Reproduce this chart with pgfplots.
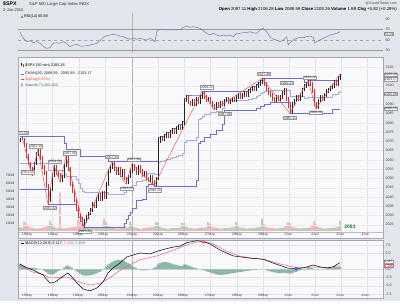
\documentclass[border=0pt]{standalone}
\usepackage{fontspec}
\setmainfont{Liberation Sans}
\usepackage{pgfplots}
\pgfplotsset{compat=1.18}
\usepackage{pgfplotstable}
\usepgfplotslibrary{fillbetween}

\definecolor{outerbg}{RGB}{226,229,235}
\definecolor{panelbg}{RGB}{249,249,252}
\definecolor{gridc}{RGB}{226,226,234}
\definecolor{framec}{RGB}{165,168,178}
\definecolor{barred}{RGB}{225,40,40}
\definecolor{bardark}{RGB}{35,35,35}
\definecolor{chan}{RGB}{110,110,205}
\definecolor{chanmid}{RGB}{170,170,222}
\definecolor{zig}{RGB}{232,80,80}
\definecolor{volup}{RGB}{150,182,152}
\definecolor{voldn}{RGB}{236,152,162}
\definecolor{rsic}{RGB}{120,120,172}
\definecolor{rsifill}{RGB}{95,165,150}
\definecolor{macdsig}{RGB}{215,105,125}
\definecolor{histc}{RGB}{85,148,128}
\definecolor{lbl}{RGB}{60,60,60}
\definecolor{volg}{RGB}{40,120,50}

\newcommand{\fs}[1]{\fontsize{#1}{#1}\selectfont}

\pgfplotstableread{
x lo hi v
20 2069.5 2072 45
22 2070.5 2072.5 40
34 2052 2059 35
36 2057 2064 30
38 2062 2066 30
50 2037 2045 130
52 2043 2053 90
54 2051 2057 55
62 2048 2052 35
64 2050 2058 30
66 2056 2062 35
84 2023.5 2028 55
86 2026 2030 45
88 2028 2032 40
90 2030 2034 35
92 2032 2037 35
96 2034 2040 40
98 2038 2042 45
102 2038 2043 50
106 2039 2048 110
108 2046 2055 60
110 2053 2057 45
112 2055 2059 40
118 2052 2056 30
122 2051 2055 40
128 2047 2052 45
130 2050 2055 120
132 2053 2058 85
138 2052 2057 35
144 2051 2054 35
150 2048 2052 45
156 2046 2051 110
158 2049 2072 100
160 2069 2073 55
164 2070 2074 35
166 2072 2075 30
170 2072 2076 30
172 2074 2077 35
176 2074 2078 40
178 2076 2079 40
182 2076 2081 100
184 2079 2093 95
186 2091 2095 55
192 2089 2093 35
196 2089 2094 30
200 2090 2095 40
202 2093 2097 45
208 2091 2094 110
216 2087 2091 40
220 2088 2092 30
224 2089 2093 35
226 2091 2094 35
230 2090 2093 40
232 2091 2094 45
236 2091 2095 115
238 2093 2096 80
242 2093 2096 40
244 2094 2097 35
248 2094 2098 30
250 2096 2099 35
252 2097 2100 35
256 2097 2101 40
258 2099 2102 45
260 2100 2103 50
262 2101 2104 150
276 2091 2095 30
280 2092 2095 40
282 2093 2097 40
284 2095 2099 45
292 2085 2091 55
294 2089 2093 45
296 2091 2095 40
300 2092 2096 30
302 2094 2099 35
304 2097 2101 35
306 2099 2102 40
308 2100 2103 40
318 2087.5 2093 50
320 2091 2095 40
324 2092 2096 30
326 2094 2098 30
328 2096 2099 35
330 2097 2100 35
332 2098 2101 40
334 2099 2103 40
338 2100 2105 50
340 2103 2106.3 125
}\upbars

\pgfplotstableread{
x lo hi v
24 2067 2072 120
26 2061 2069 95
28 2057 2063 60
30 2054 2059 45
32 2051.5 2056 40
40 2060 2066 35
42 2055 2062 40
44 2052 2057 45
46 2045 2054 50
48 2036 2047 60
56 2052 2057 40
58 2051 2054 35
60 2048 2053 480
68 2054 2062 40
70 2046 2056 45
72 2042 2048 45
74 2037 2044 50
76 2033 2039 55
78 2029 2035 140
80 2027 2031 100
82 2024.5 2029 60
94 2034 2037 40
100 2038 2042 40
104 2039 2043 150
114 2054 2059 35
116 2052 2056 30
120 2051 2056 35
124 2049 2055 45
126 2047 2051 50
134 2054 2058 50
136 2052 2056 40
140 2053 2057 30
142 2051 2055 30
146 2049 2054 40
148 2048 2051 45
152 2047 2052 50
154 2046 2049 55
162 2070 2073 40
168 2072 2075 30
174 2074 2077 35
180 2076 2079 45
188 2090 2095 45
190 2089 2092 40
194 2089 2093 30
198 2090 2094 35
204 2093 2097 40
206 2091 2095 45
210 2090 2094 85
212 2088 2092 50
214 2087 2090 45
218 2088 2091 35
222 2089 2092 30
228 2090 2094 40
234 2091 2094 50
240 2093 2096 45
246 2094 2097 30
254 2097 2100 40
264 2100 2104 85
266 2097 2102 50
268 2095 2099 45
270 2094 2097 40
272 2092 2096 35
274 2091 2094 35
278 2092 2095 35
286 2092 2099 60
288 2088 2094 110
290 2085 2090 95
298 2092 2095 35
310 2100 2103 45
312 2096 2102 60
314 2089 2098 120
316 2087.5 2091 80
322 2092 2095 35
336 2100 2103 45
}\dnbars

\pgfplotstableread{
x uc mc lc
20 2072.5 2058.25 2044
48 2072.5 2054.25 2036
64 2069 2052.5 2036
66 2066 2051 2036
76 2066 2049.5 2033
78 2066 2047.5 2029
80 2062 2044.5 2027
82 2062 2043.25 2024.5
84 2062 2042.75 2023.5
108 2059 2041.25 2023.5
124 2059 2042.5 2026
126 2059 2043.5 2028
128 2059 2044.5 2030
130 2059 2045.5 2032
132 2059 2046.5 2034
136 2059 2048.5 2038
142 2059 2049 2039
146 2059 2052.5 2046
148 2059 2053 2047
154 2059 2052.5 2046
158 2072 2059 2046
160 2073 2059.5 2046
164 2074 2060 2046
166 2075 2060.5 2046
170 2076 2061 2046
172 2077 2061.5 2046
176 2078 2062 2046
178 2079 2062.5 2046
182 2081 2063.5 2046
184 2093 2069.5 2046
186 2095 2070.5 2046
196 2095 2072 2049
198 2095 2082 2069
200 2095 2082.5 2070
202 2097 2083.5 2070
204 2097 2084.5 2072
210 2097 2085.5 2074
216 2097 2086.5 2076
222 2097 2088 2079
224 2097 2092 2087
248 2098 2092.5 2087
250 2099 2093 2087
252 2100 2093.5 2087
256 2101 2094.5 2088
258 2102 2095 2088
260 2103 2096 2089
262 2104 2096.5 2089
264 2104 2097 2090
270 2104 2097.5 2091
290 2104 2094.5 2085
304 2102 2093.5 2085
308 2103 2094 2085
332 2103 2095.25 2087.5
338 2105 2096.25 2087.5
340 2106.3 2096.9 2087.5
}\chantab

\pgfplotstableread{
x v
20 64.3
23.3 52.9
26.7 46.4
30 48.3
33.3 44.5
36.7 46.4
40 43.3
43.3 36.9
46.7 33.8
50 35
53.3 43.3
56.7 44.5
60 43.3
63.3 46.4
66.7 43.3
70 36.9
73.3 40.1
76.7 41.4
80 38.2
83.3 38.2
86.7 38.8
90 40.1
93.3 41.4
96.7 43.3
100 48.3
103.3 54.8
106.7 57.8
110 59.1
113.3 60.5
116.7 59.1
120 57.2
123.3 55.9
126.7 52.9
130 51
133.3 52.9
136.7 51
140 52.9
143.3 51
146.7 49.6
150 52.9
153.3 49.6
155 46.4
156.7 65.4
158.3 68.7
163.3 70
166.7 68.7
173.3 68.7
180 68.7
183.3 73.8
186.7 76.3
190 73.8
193.3 75
200 71.9
203.3 67.3
206.7 62.4
210 59.1
213.3 62.4
216.7 59.1
220 57.2
223.3 59.1
226.7 57.2
230 59.1
233.3 55.9
236.7 62.4
240 62.4
243.3 63.5
246.7 63.5
250 65.4
253.3 63.5
256.7 62.4
260 68.7
263.3 71.9
266.7 65.4
270 55.9
273.3 51
276.7 49.6
280 46.4
283.3 49.6
286.7 55.9
288.3 40.1
290 44.5
293.3 49.6
296.7 52.9
300 54.8
303.3 54
306.7 55.9
310 57.2
313.3 54.8
315 43.3
316.7 46.4
320 49.6
323.3 52.9
326.7 55.9
330 59.1
333.3 60.5
336.7 62.4
340 65.6
}\rsitab

\pgfplotstableread{
x v
20 1.7
25 0.8
33 -0.15
43 -1.7
50 -4.2
55 -3.9
62 -2.3
68 -1.1
72 -2.3
77 -4.2
83 -6.0
90 -6.6
97 -5.7
103 -3.9
108 -1.1
113 0.5
120 2.0
127 3.9
140 5.1
150 4.8
157 5.6
165 6.3
173 6.9
180 7.2
187 8.3
197 8.9
203 8.6
210 7.9
220 6.0
233 4.2
250 3.5
263 3.2
273 2.0
287 0.5
297 0.15
307 0.8
313 1.4
320 0.8
327 0.5
333 0.8
340 2.1
}\macdtab

\pgfplotstableread{
x v
20 1.1
33 -0.8
43 -1.5
50 -2.6
60 -2.5
67 -2.3
80 -3.9
90 -4.8
100 -4.2
110 -2.6
117 -0.9
127 1.0
140 3.0
157 4.2
173 5.9
187 7.6
197 8.5
205 8.6
213 7.9
227 5.6
240 4.1
253 3.5
267 2.9
280 1.7
293 0.8
303 0.5
313 0.8
327 0.5
340 1.2
}\sigtab

\pgfplotstableread{
x h
20 1.8
22 1.4
24 1.0
26 0.7
28 0.5
30 0.5
32 0.6
34 0.5
36 0.4
38 0.3
40 0.2
42 0.0
44 -0.4
46 -0.8
48 -1.3
50 -1.6
52 -1.6
54 -1.4
56 -1.0
58 -0.6
60 -0.3
62 0.1
64 0.6
66 1.0
68 1.2
70 0.9
72 0.5
74 0.1
76 -0.4
78 -0.9
80 -1.3
82 -1.7
84 -1.9
86 -1.9
88 -1.9
90 -1.8
92 -1.7
94 -1.5
96 -1.3
98 -1.0
100 -0.7
102 -0.3
104 0.2
106 0.9
108 1.5
110 1.9
112 2.3
114 2.6
116 2.8
118 3.0
120 3.0
122 2.9
124 2.6
126 2.3
128 2.0
130 1.6
132 1.2
134 0.8
136 0.4
138 0.1
140 -0.1
142 -0.3
144 -0.3
146 -0.2
148 -0.1
150 0.0
152 0.3
154 0.5
156 0.9
158 1.6
160 2.0
162 2.2
164 2.3
166 2.3
168 2.2
170 2.0
172 1.8
174 1.6
176 1.5
178 1.3
180 1.1
182 1.0
184 1.5
186 1.6
188 1.3
190 1.0
192 0.8
194 0.6
196 0.4
198 0.2
200 0.0
202 -0.1
204 -0.3
206 -0.5
208 -0.7
210 -0.9
212 -1.1
214 -1.3
216 -1.5
218 -1.6
220 -1.7
222 -1.7
224 -1.6
226 -1.5
228 -1.4
230 -1.3
232 -1.2
234 -1.1
236 -1.0
238 -0.9
240 -0.8
242 -0.7
244 -0.6
246 -0.5
248 -0.4
250 -0.3
252 -0.2
254 -0.2
256 -0.1
258 0.0
260 0.1
262 0.1
264 0.0
266 -0.2
268 -0.4
270 -0.6
272 -0.8
274 -0.9
276 -1.0
278 -1.1
280 -1.1
282 -1.1
284 -1.0
286 -1.1
288 -1.2
290 -1.3
292 -1.1
294 -0.9
296 -0.7
298 -0.5
300 -0.3
302 -0.1
304 0.1
306 0.3
308 0.5
310 0.6
312 0.5
314 0.2
316 0.0
318 -0.1
320 0.0
322 0.1
324 0.2
326 0.3
328 0.4
330 0.5
332 0.6
334 0.7
336 0.7
338 0.8
340 0.85
}\histtab

\pgfplotsset{
  panelst/.style={
    scale only axis, width=365pt, xmin=18, xmax=383,
    anchor=south west,
    axis background/.style={fill=panelbg},
    axis line style={framec, line width=0.4pt},
    xtick={26,52,79,105,132,158,184,210,237,263,289,315,341,367},
    xticklabel=\empty,
    xmajorgrids, ymajorgrids,
    grid style={gridc, line width=0.3pt},
    major tick length=0pt,
    yticklabel pos=right,
    yticklabel style={font=\fs{3.6}, text=lbl, xshift=-1pt},
    /pgf/number format/assume math mode=true,
    /pgf/number format/1000 sep={},
  },
}
\tikzset{lbox/.style={draw=gray!80, fill=white, inner sep=0.45pt, font=\fs{3.3}, text=black!80}}

\begin{document}
\begin{tikzpicture}
\fill[outerbg] (0,0) rectangle (400pt,301pt);

% ---------- RSI panel ----------
\begin{axis}[panelst, at={(18pt,248pt)}, height=40pt, ymin=24.9, ymax=101,
  ytick={30,50,70,90}, ymajorgrids=false]
\addplot[gray!60, line width=0.4pt] coordinates {(132,24.9)(132,101)};
\addplot[gray!80, line width=0.4pt] coordinates {(18,70)(383,70)};
\addplot[gray!80, line width=0.4pt] coordinates {(18,30)(383,30)};
\addplot[gray!70, dashed, line width=0.35pt] coordinates {(18,50)(383,50)};
\addplot[name path=rsi, draw=none] table[x=x,y=v] {\rsitab};
\addplot[name path=lseventy, draw=none] coordinates {(20,70)(340,70)};
\addplot[rsifill] fill between[of=rsi and lseventy, soft clip={(axis cs:18,70) rectangle (axis cs:383,101)}];
\addplot[rsic, line width=0.5pt] table[x=x,y=v] {\rsitab};
\end{axis}

% ---------- Volume (underlay of price panel) ----------
\begin{axis}[panelst, at={(18pt,63pt)}, height=181pt, ymin=-87.5, ymax=2175,
  ytick={100,200,300,400,500,600,700}, ymajorgrids=false,
  yticklabel pos=left,
  yticklabel={\pgfmathprintnumber{\tick}M},
  yticklabel style={font=\fs{3.4}, text=lbl, xshift=1pt}]
\addplot[gray!60, line width=0.4pt] coordinates {(132,-87.5)(132,2175)};
\addplot[ybar, bar width=1.3pt, bar shift=0pt, fill=volup, draw=none] table[x=x,y=v] {\upbars};
\addplot[ybar, bar width=1.3pt, bar shift=0pt, fill=voldn, draw=none] table[x=x,y=v] {\dnbars};
\addplot[gray!50, line width=0.3pt] coordinates {(18,-10)(383,-10)};
\end{axis}

% ---------- Price panel ----------
\begin{axis}[panelst, at={(18pt,63pt)}, height=181pt, ymin=2017.84, ymax=2115.51,
  axis background/.style={}, xmajorgrids=false,
  ytick={2025,2030,2035,2040,2045,2050,2055,2060,2065,2070,2075,2080,2085,2090,2100,2110},
  grid style={gridc!70, line width=0.25pt}]
\addplot[const plot, chanmid, line width=0.4pt] table[x=x,y=mc] {\chantab};
\addplot[const plot, chan, line width=0.45pt] table[x=x,y=uc] {\chantab};
\addplot[const plot, chan, line width=0.45pt] table[x=x,y=lc] {\chantab};
\addplot[draw=none, mark=none, error bars/.cd, y dir=minus, y explicit, error mark=none,
  error bar style={draw=barred, line width=0.55pt}]
  table[x=x, y=hi, y error expr=\thisrow{hi}-\thisrow{lo}] {\dnbars};
\addplot[draw=none, mark=none, error bars/.cd, y dir=minus, y explicit, error mark=none,
  error bar style={draw=bardark, line width=0.55pt}]
  table[x=x, y=hi, y error expr=\thisrow{hi}-\thisrow{lo}] {\upbars};
\addplot[zig, line width=0.45pt] coordinates {
 (22,2072.5) (32,2051.5) (38,2066) (48,2036) (54,2057) (60,2048) (66,2062)
 (84,2023.5) (112,2059) (126,2047) (132,2058) (154,2046) (202,2097) (214,2087)
 (262,2104) (290,2085) (308,2103) (316,2087.5) (340,2106.3)};
\node[lbox] at (axis cs:22,2074.5) {2071.50};
\node[lbox] at (axis cs:36,2067.4) {2061.40};
\node[lbox] at (axis cs:28,2053.4) {2051.56};
\node[lbox] at (axis cs:55,2059.2) {2054.58};
\node[lbox] at (axis cs:70,2063.6) {2057.06};
\node[lbox] at (axis cs:50,2034.0) {2035.32};
\node[lbox] at (axis cs:85,2021.4) {2025.31};
\node[lbox] at (axis cs:112,2061.6) {2057.32};
\node[lbox] at (axis cs:127,2044.6) {2048.25};
\node[lbox] at (axis cs:134,2060.2) {2057.58};
\node[lbox] at (axis cs:155,2043.6) {2046.25};
\node[lbox] at (axis cs:207,2099.2) {2094.21};
\node[lbox] at (axis cs:225,2084.8) {2087.86};
\node[lbox] at (axis cs:264,2106.4) {2107.48};
\node[lbox] at (axis cs:287,2101.5) {2099.23};
\node[lbox] at (axis cs:290,2082.6) {2085.31};
\node[lbox] at (axis cs:310,2104.4) {2103.12};
\node[lbox] at (axis cs:316,2085.6) {2086.59};
\end{axis}

% ---------- MACD panel ----------
\begin{axis}[panelst, at={(18pt,3pt)}, height=58pt, ymin=-8.8, ymax=9.1,
  ytick={-7.5,-5,-2.5,0,5,7.5},
  yticklabel style={/pgf/number format/.cd, fixed, fixed zerofill, precision=1}]
\addplot[gray!60, line width=0.4pt] coordinates {(132,-8.8)(132,9.1)};
\addplot[ybar, bar width=1.1pt, bar shift=0pt, fill=histc, draw=none] table[x=x,y=h] {\histtab};
\addplot[macdsig, line width=0.5pt] table[x=x,y=v] {\sigtab};
\addplot[black, line width=0.5pt] table[x=x,y=v] {\macdtab};
\addplot[only marks, mark=*, mark size=1.5pt, mark options={fill=red!30, draw=red}] coordinates {(203,8.5)};
\addplot[only marks, mark=*, mark size=1.5pt, mark options={fill=blue!40, draw=blue}] coordinates {(296,0.25)};
\end{axis}

% ---------- texts ----------
\begin{scope}[shift={(0pt,301pt)}, x=1pt, y=1pt]
\node[anchor=west, font=\fs{5.2}\bfseries, inner sep=0] at (3,-4) {\$SPX};
\node[anchor=west, font=\fs{4.2}, inner sep=0, text=black!80] at (29,-4) {S\&P 500 Large Cap Index INDX};
\node[anchor=west, font=\fs{4}, inner sep=0, text=black!80] at (3,-10) {2-Jun-2015};
\node[anchor=east, font=\fs{3.6}, inner sep=0, text=black!70] at (397,-3) {@StockCharts.com};
\node[anchor=east, font=\fs{4.3}, inner sep=0] at (397,-9)
 {\textbf{Open} 2087.11 \textbf{High} 2106.28 \textbf{Low} 2088.59 \textbf{Close} 2105.26 \textbf{Volume} 1.6B \textbf{Chg} +5.82 (+0.28\%)};
% RSI legend
\fill[rsifill] (20.5,-18) -- (22,-15.2) -- (23.5,-18) -- cycle;
\node[anchor=west, font=\fs{3.8}, inner sep=0] at (24,-16.5) {RSI(14) 65.59};
\node[lbox, font=\fs{3.4}, anchor=west] at (384,-34) {65.59};
% main legend
\draw[bardark, line width=0.6pt] (21.5,-63.5) -- (21.5,-66.5);
\draw[barred, line width=0.6pt] (23,-64) -- (23,-67);
\node[anchor=west, font=\fs{3.8}, inner sep=0] at (25,-65) {\$SPX (30 min) 2105.26};
\draw[chan, line width=0.6pt] (20.5,-74) -- (24,-74);
\node[anchor=west, font=\fs{3.8}, inner sep=0, text=black!85] at (25,-74) {CHAN(20) 2088.59 - 2095.88 - 2103.17};
\draw[zig, line width=0.6pt] (20.5,-79.5) -- (24,-79.5);
\node[anchor=west, font=\fs{3.8}, inner sep=0, text=zig] at (25,-79.5) {ZigZag(0.25\%)};
\fill[volup] (20.5,-86.5) rectangle (21.6,-84); \fill[voldn] (22.2,-86.5) rectangle (23.3,-83);
\node[anchor=west, font=\fs{3.8}, inner sep=0, text=volg] at (25,-85) {Volume 71,365,402};
\node[lbox, font=\fs{3.4}, anchor=west] at (384,-74.5) {2105.26};
\node[lbox, font=\fs{3.4}, anchor=west] at (384,-79.2) {2103.17};
\node[lbox, font=\fs{3.4}, anchor=west] at (384,-94) {2095.88};
\node[lbox, font=\fs{3.4}, anchor=west] at (384,-108.5) {2088.59};
\node[anchor=center, font=\fs{5}\bfseries, text=volg, inner sep=0] at (350,-227) {2083};
% MACD legend
\draw[black, line width=0.6pt] (20.5,-243.5) -- (24,-243.5);
\node[anchor=west, font=\fs{3.8}, inner sep=0] at (25,-243.5) {MACD(12,26,9) 2.117, \textcolor{macdsig}{1.206}, \textcolor{histc}{0.849}};
\node[lbox, font=\fs{3.3}, anchor=west] at (384,-261.8) {2.117};
\node[lbox, font=\fs{3.3}, anchor=west, draw=macdsig] at (384,-266) {1.206};
% date labels
\foreach \xx/\dd in {27/15May,53/18May,78/19May,103/20May,132/21May,158/22May,183/26May,210/27May,237/28May,263/29May,288/1Jun,315/2Jun,340/3Jun,365/4Jun}{
  \node[font=\fs{3.4}, text=lbl, inner sep=0] at (\xx,-234.5) {\dd};
  \node[font=\fs{3.4}, text=lbl, inner sep=0] at (\xx,-295.5) {\dd};
}
\end{scope}
\end{tikzpicture}
\end{document}
